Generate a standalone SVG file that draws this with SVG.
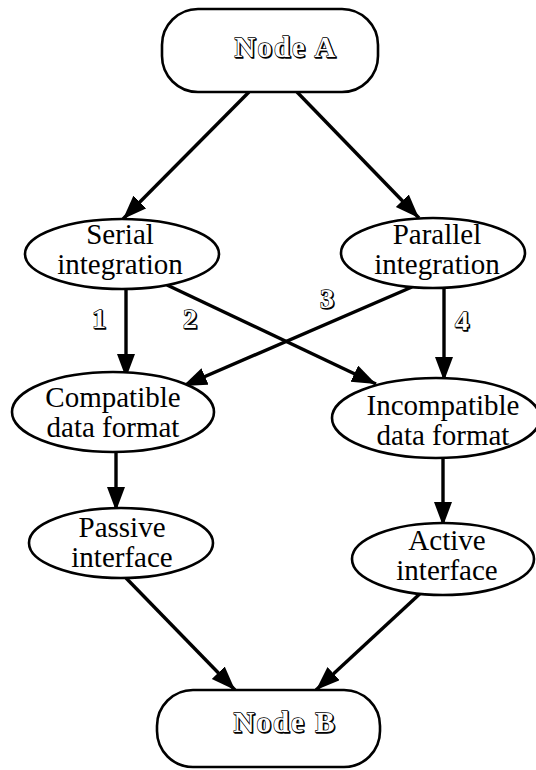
<svg xmlns="http://www.w3.org/2000/svg" width="536" height="770" viewBox="0 0 536 770">
  <style>
    .box { fill: #fff; stroke: #000; stroke-width: 2.6; }
    .oval { fill: #fff; stroke: #000; stroke-width: 2.6; }
    .lbl { font-family: "Liberation Serif", "Times New Roman", serif; font-size: 29px; fill: #000; text-anchor: middle; }
    .hollow { font-family: "Liberation Serif", "Times New Roman", serif; font-weight: bold; fill: #fff; stroke: #000; stroke-width: 1.3; paint-order: stroke; text-anchor: middle; }
    .shadow { font-family: "Liberation Serif", "Times New Roman", serif; font-weight: bold; fill: #000; stroke: #000; stroke-width: 1.3; text-anchor: middle; }
    .big { font-size: 29px; letter-spacing: 2px; }
    .num { font-size: 28px; }
    .edge { fill: none; stroke: #000; stroke-width: 3.4; marker-end: url(#head); }
  </style>
  <defs>
    <marker id="head" markerUnits="userSpaceOnUse" markerWidth="26" markerHeight="20" refX="24" refY="9" orient="auto">
      <path d="M0,0 L24,9 L0,18 Z" fill="#000"/>
    </marker>
  </defs>
  <rect width="536" height="770" fill="#fff"/>

  <!-- connectors -->
  <g id="connectors">
    <line class="edge" x1="249" y1="92" x2="123" y2="219"/>
    <line class="edge" x1="297" y1="92" x2="419" y2="218"/>
    <line class="edge" x1="126" y1="288" x2="126" y2="378"/>
    <line class="edge" x1="167" y1="285" x2="376" y2="384"/>
    <line class="edge" x1="412" y1="287" x2="183" y2="386"/>
    <line class="edge" x1="444" y1="288" x2="444" y2="381"/>
    <line class="edge" x1="116" y1="452" x2="116" y2="511"/>
    <line class="edge" x1="443" y1="458" x2="443" y2="526"/>
    <line class="edge" x1="126" y1="578" x2="235" y2="690"/>
    <line class="edge" x1="424" y1="590" x2="316" y2="690"/>
    <!-- edge numbers, drawn in a shadowed outline face -->
    <text class="shadow num" x="100" y="329">1</text>
    <text class="hollow num" x="99" y="328">1</text>
    <text class="shadow num" x="191" y="329">2</text>
    <text class="hollow num" x="190" y="328">2</text>
    <text class="shadow num" x="328" y="309">3</text>
    <text class="hollow num" x="327" y="308">3</text>
    <text class="shadow num" x="463" y="331">4</text>
    <text class="hollow num" x="462" y="330">4</text>
  </g>

  <g id="nodeA">
    <rect class="box" x="162" y="9" width="216" height="83" rx="36"/>
    <text class="shadow big" x="287" y="58">Node A</text>
    <text class="hollow big" x="286" y="57">Node A</text>
  </g>

  <g id="serial">
    <ellipse class="oval" cx="122" cy="254" rx="97" ry="35"/>
    <text class="lbl" x="120" y="244">Serial</text>
    <text class="lbl" x="120" y="274">integration</text>
  </g>

  <g id="parallel">
    <ellipse class="oval" cx="433" cy="253" rx="92" ry="35"/>
    <text class="lbl" x="437" y="244">Parallel</text>
    <text class="lbl" x="437" y="274">integration</text>
  </g>

  <g id="compatible">
    <ellipse class="oval" cx="113" cy="412" rx="101" ry="40"/>
    <text class="lbl" x="113" y="407">Compatible</text>
    <text class="lbl" x="113" y="437">data format</text>
  </g>

  <g id="incompatible">
    <ellipse class="oval" cx="436" cy="418" rx="104" ry="40"/>
    <text class="lbl" x="443" y="415">Incompatible</text>
    <text class="lbl" x="443" y="445">data format</text>
  </g>

  <g id="passive">
    <ellipse class="oval" cx="121" cy="543" rx="92" ry="35"/>
    <text class="lbl" x="122" y="537">Passive</text>
    <text class="lbl" x="122" y="567">interface</text>
  </g>

  <g id="active">
    <ellipse class="oval" cx="443" cy="559" rx="91" ry="36"/>
    <text class="lbl" x="447" y="550">Active</text>
    <text class="lbl" x="447" y="580">interface</text>
  </g>

  <g id="nodeB">
    <rect class="box" x="157" y="690" width="223" height="77" rx="36"/>
    <text class="shadow big" x="286" y="733">Node B</text>
    <text class="hollow big" x="285" y="732">Node B</text>
  </g>
</svg>
